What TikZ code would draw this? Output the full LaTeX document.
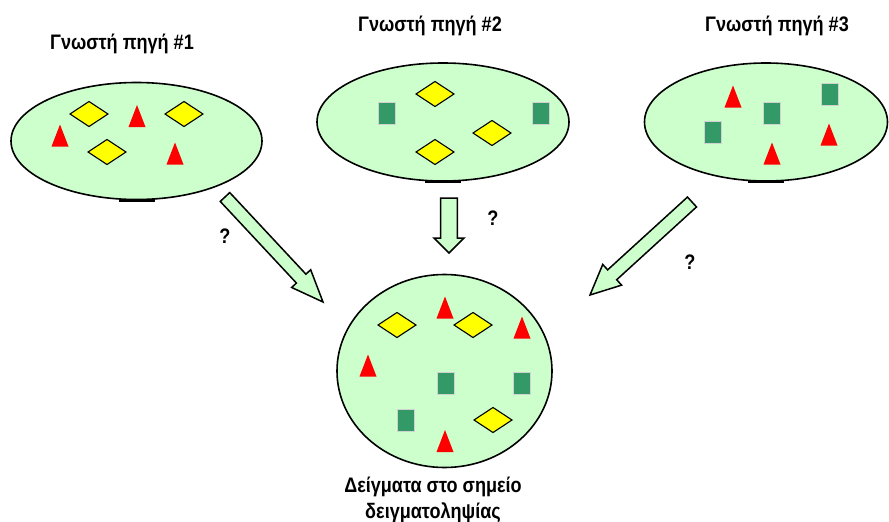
\documentclass[tikz,border=0pt]{standalone}
\usepackage{fontspec}
\setmainfont{Liberation Sans}
\newfontfamily\lblfont[FakeStretch=0.86]{Liberation Sans}
\usetikzlibrary{shapes.geometric,calc}
\definecolor{poolgreen}{HTML}{CCFFCC}
\definecolor{sqgreen}{HTML}{339966}
\definecolor{tred}{HTML}{FF0000}
\definecolor{dyellow}{HTML}{FFFF00}
\tikzset{
  pool/.style={ellipse, draw=black, fill=poolgreen, line width=1.6pt, inner sep=0pt},
  lbl/.style={font=\lblfont\bfseries\fontsize{21}{26}\selectfont, inner sep=0pt},
  qmark/.style={font=\lblfont\bfseries\fontsize{21}{26}\selectfont, inner sep=0pt},
  blockarrow/.style={draw=black, fill=poolgreen, line width=1.5pt, line join=miter},
  tri/.pic={\fill[tred] (-8.5,11) -- (0,-11) -- (8.5,11) -- cycle;},
  sq/.pic={\filldraw[fill=sqgreen, draw=black!18, line width=0.9pt] (-8.5,-11) rectangle (8.5,11);},
  diam/.pic={\filldraw[fill=dyellow, draw=black, line width=1.1pt] (-19,0) -- (0,-12.5) -- (19,0) -- (0,12.5) -- cycle;},
}
% block arrow from tail #1 to tip #2: shaft half-width #3, head half-width #4, head length #5
\newcommand\blockarr[5]{%
  \path ($(#2)!#5!(#1)$) coordinate (hb);
  \draw[blockarrow] ($(#1)!#3!90:(#2)$) -- ($(hb)!#3!90:(#2)$) -- ($(hb)!#4!90:(#2)$)
    -- (#2) -- ($(hb)!#4!-90:(#2)$) -- ($(hb)!#3!-90:(#2)$) -- ($(#1)!#3!-90:(#2)$) -- cycle;
}
\begin{document}
\begin{tikzpicture}[x=1pt,y=-1pt]
\useasboundingbox (0,0) rectangle (889,522);

% source pools
\node[pool, minimum width=251pt, minimum height=117pt] (s1) at (136.5,141) {};
\node[pool, minimum width=252pt, minimum height=118pt] (s2) at (443,122) {};
\node[pool, minimum width=243pt, minimum height=118pt] (s3) at (766,122) {};
\draw[line width=3pt] ([xshift=-18pt]s1.south) -- ([xshift=18pt]s1.south);
\draw[line width=3pt] ([xshift=-18pt]s2.south) -- ([xshift=18pt]s2.south);
\draw[line width=3pt] ([xshift=-18pt]s3.south) -- ([xshift=18pt]s3.south);

% sampling point
\node[pool, minimum width=215pt, minimum height=193pt] (smp) at (444.5,371) {};

% titles
\node[lbl] (t1) at (122,44) {Γνωστή πηγή \#1};
\node[lbl] (t2) at (430,26) {Γνωστή πηγή \#2};
\node[lbl] (t3) at (777,26) {Γνωστή πηγή \#3};
\node[lbl, align=center] (t4) at (433,500) {Δείγματα στο σημείο\\δειγματοληψίας};

% contents of source 1
\pic at (89,114) {diam};
\pic at (184,114) {diam};
\pic at (107,152) {diam};
\pic at (60,135.5) {tri};
\pic at (137,116) {tri};
\pic at (175,153.5) {tri};

% contents of source 2
\pic at (387,113) {sq};
\pic at (541,113) {sq};
\pic at (435,94) {diam};
\pic at (492,133) {diam};
\pic at (435,152) {diam};

% contents of source 3
\pic at (733,96.5) {tri};
\pic at (829,134.5) {tri};
\pic at (772,153.5) {tri};
\pic at (772,113) {sq};
\pic at (830,94) {sq};
\pic at (713,132) {sq};

% contents of the sample
\pic at (397,325) {diam};
\pic at (473,325) {diam};
\pic at (493,420) {diam};
\pic at (445,307.5) {tri};
\pic at (522,327.5) {tri};
\pic at (368,365.5) {tri};
\pic at (445,441) {tri};
\pic at (446,383) {sq};
\pic at (522,383) {sq};
\pic at (406,420) {sq};

% flows
\coordinate (a1t) at (225,197);
\coordinate (a1h) at (323,302);
\coordinate (a2t) at (449,198);
\coordinate (a2h) at (449,253);
\coordinate (a3t) at (692,202);
\coordinate (a3h) at (590,295);
\blockarr{a1t}{a1h}{6.5pt}{13pt}{32pt}
\blockarr{a2t}{a2h}{8.3pt}{15pt}{15pt}
\blockarr{a3t}{a3h}{6.7pt}{14pt}{30pt}

\node[qmark] (q1) at (225,236) {?};
\node[qmark] (q2) at (493,218) {?};
\node[qmark] (q3) at (690,262) {?};
\end{tikzpicture}
\end{document}
